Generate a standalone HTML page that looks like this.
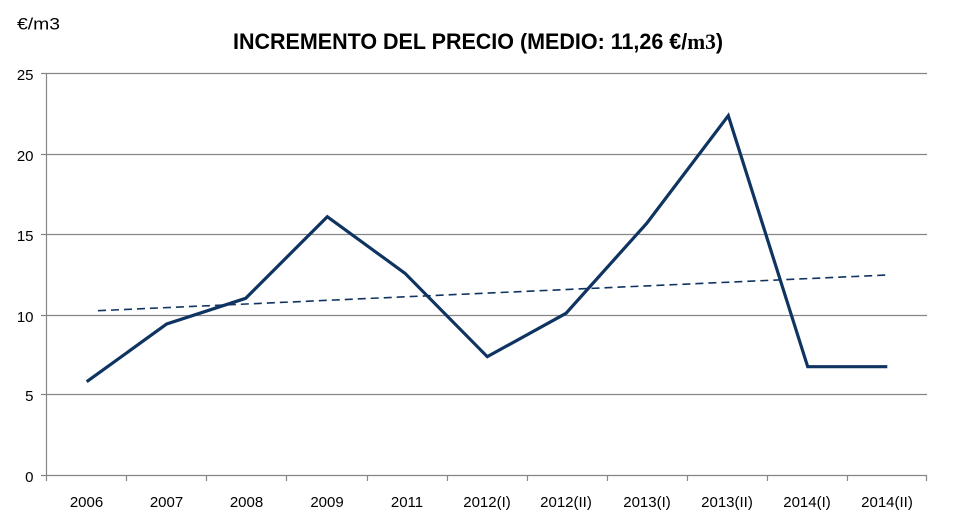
<!DOCTYPE html>
<html><head><meta charset="utf-8"><style>
html,body{margin:0;padding:0;background:#fff;}
svg{display:block;}
</style></head><body>
<svg width="960" height="518" viewBox="0 0 960 518" xmlns="http://www.w3.org/2000/svg">
<rect width="960" height="518" fill="#fff"/>
<text x="17" y="29.5" font-family="Liberation Sans, sans-serif" font-size="17" fill="#000" textLength="43" lengthAdjust="spacingAndGlyphs">€/m3</text>
<text x="233" y="49" font-family="Liberation Sans, sans-serif" font-size="22" font-weight="bold" fill="#000" textLength="490" lengthAdjust="spacingAndGlyphs">INCREMENTO DEL PRECIO (MEDIO: 11,26 €/<tspan font-family="Liberation Serif, serif">m3</tspan>)</text>
<g stroke="#868686" stroke-width="1.2" fill="none">
<line x1="41" y1="73.5" x2="927" y2="73.5"/>
<line x1="41" y1="154.5" x2="927" y2="154.5"/>
<line x1="41" y1="234.5" x2="927" y2="234.5"/>
<line x1="41" y1="315.5" x2="927" y2="315.5"/>
<line x1="41" y1="394.5" x2="927" y2="394.5"/>
<line x1="41" y1="475.5" x2="927" y2="475.5"/>
<line x1="46.5" y1="73" x2="46.5" y2="481"/>
<line x1="126.5" y1="475" x2="126.5" y2="481"/>
<line x1="206.5" y1="475" x2="206.5" y2="481"/>
<line x1="286.5" y1="475" x2="286.5" y2="481"/>
<line x1="367.5" y1="475" x2="367.5" y2="481"/>
<line x1="447.5" y1="475" x2="447.5" y2="481"/>
<line x1="527.5" y1="475" x2="527.5" y2="481"/>
<line x1="607.5" y1="475" x2="607.5" y2="481"/>
<line x1="687.5" y1="475" x2="687.5" y2="481"/>
<line x1="767.5" y1="475" x2="767.5" y2="481"/>
<line x1="847.5" y1="475" x2="847.5" y2="481"/>
<line x1="926.5" y1="475" x2="926.5" y2="481"/>
</g>
<g font-family="Liberation Sans, sans-serif" font-size="15" fill="#000" text-anchor="end">
<text x="33.5" y="80">25</text>
<text x="33.5" y="161">20</text>
<text x="33.5" y="241">15</text>
<text x="33.5" y="322">10</text>
<text x="33.5" y="401">5</text>
<text x="33.5" y="482">0</text>
</g>
<g font-family="Liberation Sans, sans-serif" font-size="15" fill="#000" text-anchor="middle">
<text x="86.5" y="507">2006</text>
<text x="166.5" y="507">2007</text>
<text x="246.5" y="507">2008</text>
<text x="327" y="507">2009</text>
<text x="407" y="507">2011</text>
<text x="487" y="507">2012(I)</text>
<text x="566" y="507">2012(II)</text>
<text x="647" y="507">2013(I)</text>
<text x="727" y="507">2013(II)</text>
<text x="807" y="507">2014(I)</text>
<text x="887" y="507">2014(II)</text>
</g>
<line x1="98" y1="310.7" x2="887.3" y2="275" stroke="#0f3461" stroke-width="1.6" stroke-dasharray="8 5"/>
<polyline points="86.7,381.7 166.7,324 245.7,298.3 327.3,216.7 405,273.3 487.3,356.7 566,313.3 646.7,223.3 728.3,115.7 807.7,366.7 887.3,366.7" fill="none" stroke="#0f3461" stroke-width="3.2" stroke-linejoin="miter"/>
</svg>
</body></html>
